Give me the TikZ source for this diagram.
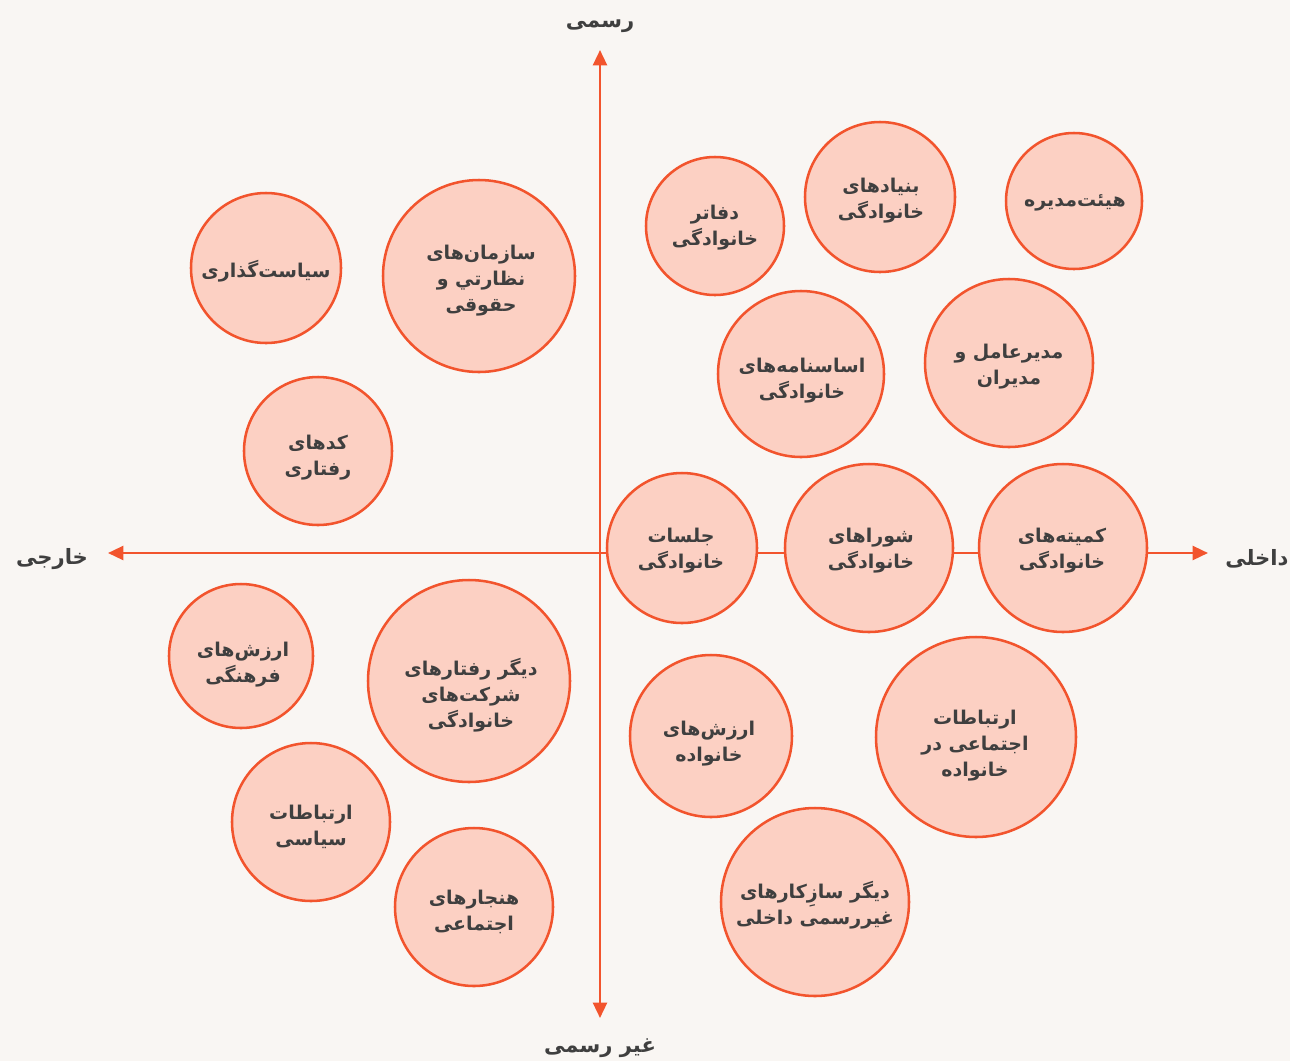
\documentclass[tikz,border=0pt]{standalone}
\usepackage{fontspec}
\usetikzlibrary{arrows.meta}
\TeXXeTstate=1
\newfontfamily\fa[Script=Arabic]{DejaVu Sans}
\definecolor{bgC}{HTML}{F9F6F3}
\definecolor{lineC}{HTML}{F2542D}
\definecolor{bubC}{HTML}{FCD0C3}
\definecolor{txtC}{HTML}{3F3F3F}
\tikzset{
	x=0.025cm, y=-0.025cm,
	axis/.style={draw=lineC, line width=1.8pt, -{Triangle[length=11pt,width=10pt]}},
	bubble/.style={circle, draw=lineC, fill=bubC, line width=1.8pt, inner sep=0pt,
		minimum size=2*#1*0.025cm},
	bubtext/.style={align=center, text=txtC, inner sep=0pt,
		font=\fa\bfseries\fontsize{13.5}{18.5}\selectfont},
	axislabel/.style={text=txtC, inner sep=0pt, font=\fa\bfseries\fontsize{15}{18}\selectfont}
}
\newcommand{\rl}[1]{\beginR #1\endR}

\begin{document}
\begin{tikzpicture}
		%%%%% START %%%%%
		\useasboundingbox (0,0) rectangle (1290,1061);
		\fill[bgC] (0,0) rectangle (1290,1061);
		\clip (0,0) rectangle (1290,1061);
		
		% axes
		\coordinate (o) at (600,553);
		\coordinate (up) at (600,50);
		\coordinate (down) at (600,1018);
		\coordinate (west) at (108,553);
		\coordinate (east) at (1208,553);
		\draw[axis] (o) -- (up);
		\draw[axis] (o) -- (down);
		\draw[axis] (o) -- (west);
		\draw[axis] (o) -- (east);
		
		\node[axislabel] (formal) at (600,26) {\rl{رسمی}};
		\node[axislabel] (informal) at (600,1048) {\rl{غیر رسمی}};
		\node[axislabel] (external) at (52,559) {\rl{خارجی}};
		\node[axislabel, anchor=west] (internal) at (1225,559) {\rl{داخلی}};
		
		% external, formal
		\node[bubble=75] (policy) at (266,268) {};
		\node[bubtext] (policy-t) at (266,271) {\rl{سیاست‌گذاری}};
		\node[bubble=96] (regul) at (479,276) {};
		\node[bubtext] (regul-t) at (481,281) {\rl{سازمان‌های}\\\rl{نظارتي و}\\\rl{حقوقی}};
		\node[bubble=74] (codes) at (318,451) {};
		\node[bubtext] (codes-t) at (318,458) {\rl{کدهای}\\\rl{رفتاری}};
		
		% internal, formal
		\node[bubble=69] (offices) at (715,226) {};
		\node[bubtext] (offices-t) at (715,228) {\rl{دفاتر}\\\rl{خانوادگی}};
		\node[bubble=75] (founds) at (880,197) {};
		\node[bubtext] (founds-t) at (881,201) {\rl{بنیادهای}\\\rl{خانوادگی}};
		\node[bubble=68] (board) at (1074,201) {};
		\node[bubtext] (board-t) at (1075,203) {\rl{هیئت‌مدیره}};
		\node[bubble=83] (charter) at (801,374) {};
		\node[bubtext] (charter-t) at (802,381) {\rl{اساسنامه‌های}\\\rl{خانوادگی}};
		\node[bubble=84] (ceo) at (1009,363) {};
		\node[bubtext] (ceo-t) at (1009,367) {\rl{مدیرعامل و}\\\rl{مدیران}};
		
		% on the axis
		\node[bubble=75] (meetings) at (682,548) {};
		\node[bubtext] (meetings-t) at (681,551) {\rl{جلسات}\\\rl{خانوادگی}};
		\node[bubble=84] (councils) at (869,548) {};
		\node[bubtext] (councils-t) at (871,551) {\rl{شوراهای}\\\rl{خانوادگی}};
		\node[bubble=84] (committees) at (1063,548) {};
		\node[bubtext] (committees-t) at (1062,551) {\rl{کمیته‌های}\\\rl{خانوادگی}};
		
		% external, informal
		\node[bubble=72] (culture) at (241,656) {};
		\node[bubtext] (culture-t) at (243,665) {\rl{ارزش‌های}\\\rl{فرهنگی}};
		\node[bubble=101] (behav) at (469,681) {};
		\node[bubtext] (behav-t) at (471,695) {\rl{دیگر رفتارهای}\\\rl{شرکت‌های}\\\rl{خانوادگی}};
		\node[bubble=79] (politic) at (311,822) {};
		\node[bubtext] (politic-t) at (311,827) {\rl{ارتباطات}\\\rl{سیاسی}};
		\node[bubble=79] (norms) at (474,907) {};
		\node[bubtext] (norms-t) at (474,912) {\rl{هنجارهای}\\\rl{اجتماعی}};
		
		% internal, informal
		\node[bubble=81] (values) at (711,736) {};
		\node[bubtext] (values-t) at (709,744) {\rl{ارزش‌های}\\\rl{خانواده}};
		\node[bubble=100] (social) at (976,737) {};
		\node[bubtext] (social-t) at (975,746) {\rl{ارتباطات}\\\rl{اجتماعی در}\\\rl{خانواده}};
		\node[bubble=94] (mechan) at (815,902) {};
		\node[bubtext] (mechan-t) at (815,905) {\rl{دیگر سازِکارهای}\\\rl{غیررسمی داخلی}};
		%%%%% END %%%%%
\end{tikzpicture}
\end{document}
